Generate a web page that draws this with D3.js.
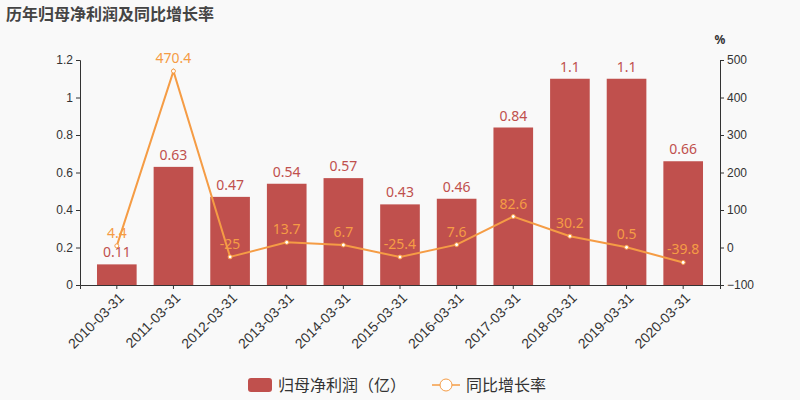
<!DOCTYPE html>
<html><head><meta charset="utf-8">
<script src="https://cdn.jsdelivr.net/npm/d3@7"></script>
<style>body{margin:0;background:#f9f9f9}svg{font-family:"Noto Sans","Noto Sans CJK SC",sans-serif}</style>
</head><body><svg id="c" width="800" height="400"></svg>
<script>
const categories = ['2010-03-31','2011-03-31','2012-03-31','2013-03-31','2014-03-31','2015-03-31','2016-03-31','2017-03-31','2018-03-31','2019-03-31','2020-03-31']
const profit = [0.11,0.63,0.47,0.54,0.57,0.43,0.46,0.84,1.1,1.1,0.66]
const growth = [4.4,470.4,-25,13.7,6.7,-25.4,7.6,82.6,30.2,0.5,-39.8]
const leftTicks = [0,0.2,0.4,0.6,0.8,1,1.2]
const rightTicks = [-100,0,100,200,300,400,500]

const margin = { top: 60, right: 80, bottom: 115, left: 80 }
const width = 800 - margin.left - margin.right
const height = 400 - margin.top - margin.bottom
const barColor = '#c0504d', lineColor = '#f59c45', textColor = '#333'

const svgElement = d3.select('#c')
svgElement.append('rect').attr('width', 800).attr('height', 400).attr('fill', '#f9f9f9')
svgElement.append('text').attr('x', 6).attr('y', 20).attr('font-size', 16).attr('font-weight', 'bold')
  .attr('fill', '#444').text('历年归母净利润及同比增长率')

const svg = svgElement.append('g').attr('transform', `translate(${margin.left}, ${margin.top})`)
const xScale = d3.scaleBand().domain(categories).range([0, width]).padding(0.3)
const yScale = d3.scaleLinear().domain([0, 1.2]).range([height, 0])
const y2Scale = d3.scaleLinear().domain([-100, 500]).range([height, 0])

const left = svg.append('g').call(d3.axisLeft(yScale).tickValues(leftTicks).tickSize(4).tickFormat(d => d))
const right = svg.append('g').attr('transform', `translate(${width},0)`).call(d3.axisRight(y2Scale).tickValues(rightTicks).tickSize(4))
const bottom = svg.append('g').attr('transform', `translate(0,${height})`).call(d3.axisBottom(xScale).tickSize(4))
for (const a of [left, right, bottom]) {
  a.selectAll('path,line').attr('stroke', textColor)
  a.selectAll('text').attr('fill', textColor).attr('font-size', 12)
}
bottom.selectAll('text').attr('font-size', 14).attr('transform', 'rotate(-45)')
  .attr('text-anchor', 'end').attr('dx', '-0.3em').attr('dy', '0.6em')
svg.append('text').attr('x', width).attr('y', -16).attr('font-size', 12).attr('font-weight', 'bold')
  .attr('fill', textColor).attr('text-anchor', 'middle').text('%')

svg.selectAll('.bar').data(profit).enter().append('rect')
  .attr('x', (d, i) => xScale(categories[i])).attr('y', d => yScale(d))
  .attr('width', xScale.bandwidth()).attr('height', d => height - yScale(d)).attr('fill', barColor)
svg.selectAll('.bl').data(profit).enter().append('text')
  .attr('x', (d, i) => xScale(categories[i]) + xScale.bandwidth() / 2).attr('y', d => yScale(d) - 7)
  .attr('text-anchor', 'middle').attr('font-size', 14).attr('fill', barColor).text(d => d)

const cx = i => xScale(categories[i]) + xScale.bandwidth() / 2
svg.append('path').datum(growth).attr('fill', 'none').attr('stroke', lineColor).attr('stroke-width', 2)
  .attr('d', d3.line().x((d, i) => cx(i)).y(d => y2Scale(d)))
svg.selectAll('.pt').data(growth).enter().append('circle')
  .attr('cx', (d, i) => cx(i)).attr('cy', d => y2Scale(d)).attr('r', 2)
  .attr('fill', '#fff').attr('stroke', lineColor)
svg.selectAll('.ll').data(growth).enter().append('text')
  .attr('x', (d, i) => cx(i)).attr('y', d => y2Scale(d) - 8)
  .attr('text-anchor', 'middle').attr('font-size', 14).attr('fill', lineColor).text(d => d)

const lg = svgElement.append('g').attr('transform', 'translate(248,385)')
lg.append('rect').attr('x', 0).attr('y', -7).attr('width', 24).attr('height', 14).attr('rx', 3).attr('fill', barColor)
lg.append('text').attr('x', 30).attr('y', 6).attr('font-size', 16).attr('fill', textColor).text('归母净利润（亿）')
lg.append('line').attr('x1', 184).attr('x2', 212).attr('stroke', lineColor).attr('stroke-width', 1.5)
lg.append('circle').attr('cx', 198).attr('r', 6).attr('fill', '#fff').attr('stroke', lineColor)
lg.append('text').attr('x', 218).attr('y', 6).attr('font-size', 16).attr('fill', textColor).text('同比增长率')
</script></body></html>
